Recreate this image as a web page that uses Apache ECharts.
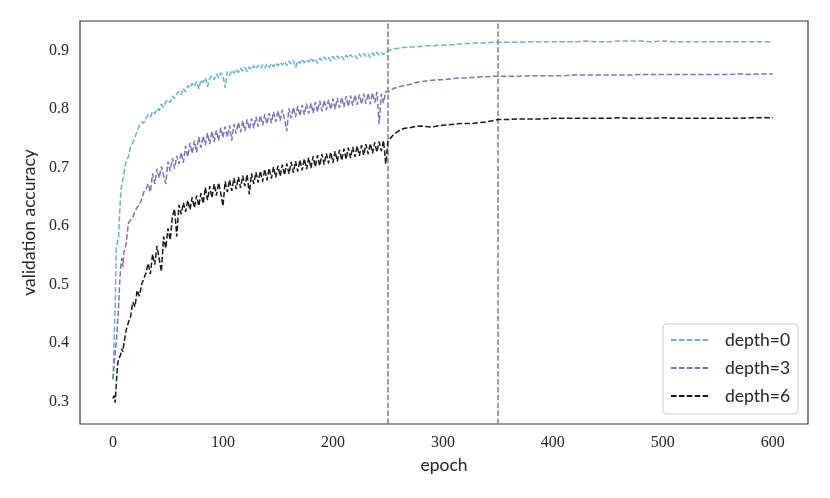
<!DOCTYPE html>
<html>
<head>
<meta charset="utf-8">
<script src="https://cdn.jsdelivr.net/npm/echarts@6/dist/echarts.min.js"></script>
<style>html,body{margin:0;padding:0;background:#fff}#c{width:830px;height:498px}</style>
</head>
<body>
<div id="c"></div>
<script>
const epochs = [0,1,2,3,4,5,6,7,8,9,10,
12,14,16,18,20,22,24,26,28,30,
32,34,36,38,40,42,44,46,48,50,52,54,56,58,60,62,64,66,68,70,72,74,76,78,80,82,84,86,88,90,92,94,96,98,100,102,104,106,108,110,112,114,116,118,120,122,124,126,128,130,132,134,136,138,140,142,144,146,148,150,152,154,156,158,160,162,164,166,168,170,172,174,176,178,180,182,184,186,188,190,192,194,196,198,200,202,204,206,208,210,212,214,216,218,220,222,224,226,228,230,232,234,236,238,240,242,244,246,248,
250,255,260,265,270,275,280,285,290,295,300,305,310,315,320,325,330,335,340,345,350,
360,370,380,390,400,410,420,430,440,450,460,470,480,490,500,510,520,530,540,550,560,570,580,590,600];

const depth0 = [0.338,0.40,0.462,0.565,0.572,0.578,0.62,0.655,0.672,0.68,0.69,
0.712,0.718,0.736,0.742,0.752,0.762,0.772,0.778,0.776,0.784,
0.79,0.786,0.796,0.792,0.801,0.797,0.808,0.803,0.812,0.816,0.811,0.822,0.818,0.826,0.83,0.824,0.835,0.829,0.84,0.836,0.844,0.838,0.847,0.834,0.85,0.845,0.853,0.838,0.852,0.857,0.85,0.86,0.853,0.862,0.858,0.836,0.864,0.857,0.866,0.861,0.868,0.862,0.87,0.865,0.871,0.864,0.872,0.867,0.874,0.868,0.875,0.869,0.876,0.87,0.877,0.871,0.878,0.872,0.879,0.874,0.88,0.875,0.881,0.874,0.882,0.877,0.883,0.871,0.882,0.878,0.885,0.879,0.884,0.88,0.887,0.881,0.886,0.878,0.887,0.883,0.889,0.884,0.888,0.882,0.89,0.885,0.891,0.886,0.89,0.884,0.892,0.887,0.893,0.888,0.891,0.886,0.894,0.889,0.895,0.89,0.894,0.888,0.896,0.891,0.897,0.892,0.896,0.893,0.898,
0.899,0.903,0.904,0.905,0.906,0.906,0.907,0.908,0.908,0.909,0.909,0.91,0.91,0.911,0.912,0.912,0.913,0.913,0.913,0.914,0.914,
0.914,0.914,0.915,0.915,0.915,0.915,0.915,0.916,0.915,0.915,0.916,0.916,0.916,0.915,0.916,0.915,0.915,0.915,0.915,0.915,0.915,0.915,0.915,0.915,0.915];

const depth3 = [0.338,0.36,0.385,0.40,0.43,0.46,0.50,0.53,0.545,0.53,0.555,
0.57,0.605,0.61,0.615,0.625,0.632,0.636,0.645,0.658,0.663,
0.672,0.658,0.69,0.672,0.698,0.682,0.702,0.686,0.672,0.71,
0.694,0.716,0.698,0.72,0.706,0.726,0.708,0.737,0.718,0.742,
0.724,0.746,0.726,0.752,0.734,0.754,0.738,0.759,0.74,0.762,
0.744,0.764,0.746,0.768,0.751,0.77,0.752,0.772,0.746,0.774,
0.758,0.777,0.76,0.78,0.762,0.782,0.765,0.784,0.767,0.787,
0.77,0.789,0.772,0.791,0.774,0.793,0.776,0.795,0.778,0.797,
0.78,0.799,0.782,0.762,0.801,0.784,0.803,0.786,0.805,0.788,
0.807,0.79,0.809,0.792,0.81,0.793,0.812,0.795,0.814,0.796,
0.815,0.798,0.816,0.799,0.818,0.80,0.819,0.802,0.82,0.803,
0.822,0.804,0.823,0.806,0.824,0.807,0.825,0.808,0.826,0.809,
0.827,0.808,0.828,0.811,0.829,0.774,0.826,0.81,0.83,
0.829,0.835,0.838,0.84,0.842,0.845,0.847,0.848,0.849,0.85,0.85,0.851,0.852,0.853,0.853,0.854,0.854,0.855,0.855,0.856,0.856,
0.856,0.856,0.857,0.857,0.857,0.857,0.858,0.858,0.858,0.858,0.858,0.858,0.859,0.859,0.859,0.859,0.859,0.859,0.859,0.859,0.859,0.86,0.859,0.86,0.86];

const depth6 = [0.305,0.31,0.298,0.33,0.36,0.372,0.375,0.38,0.39,0.385,0.40,
0.422,0.435,0.445,0.47,0.462,0.49,0.48,0.50,0.51,0.52,
0.536,0.518,0.552,0.534,0.566,0.544,0.522,0.582,0.562,0.596,
0.576,0.616,0.629,0.582,0.636,0.62,0.64,0.624,0.644,0.628,
0.649,0.631,0.652,0.634,0.656,0.638,0.666,0.644,0.668,0.648,
0.672,0.652,0.674,0.656,0.634,0.676,0.658,0.679,0.66,0.682,
0.663,0.684,0.665,0.686,0.668,0.688,0.654,0.69,0.672,0.692,
0.674,0.694,0.676,0.697,0.678,0.699,0.681,0.701,0.683,0.703,
0.685,0.705,0.687,0.707,0.689,0.709,0.691,0.711,0.693,0.713,
0.695,0.715,0.697,0.717,0.699,0.719,0.701,0.721,0.703,0.723,
0.705,0.724,0.707,0.726,0.708,0.728,0.71,0.73,0.712,0.732,
0.714,0.734,0.716,0.735,0.718,0.737,0.72,0.738,0.721,0.74,
0.723,0.741,0.724,0.743,0.726,0.744,0.728,0.746,0.706,
0.745,0.756,0.763,0.767,0.768,0.77,0.771,0.77,0.769,0.771,0.772,0.773,0.774,0.775,0.775,0.775,0.776,0.777,0.778,0.78,0.782,
0.782,0.783,0.783,0.783,0.784,0.784,0.784,0.784,0.784,0.784,0.785,0.784,0.784,0.784,0.785,0.784,0.784,0.784,0.784,0.784,0.784,0.784,0.785,0.785,0.785];

const seriesNames = ['depth=0','depth=3','depth=6'];
const seriesColors = ['#64b5cd','#8172b3','#1a1a1a'];
const phaseEpochs = [250, 350];

const chart = echarts.init(document.getElementById('c'), null, {renderer:'canvas'});
const allData = [depth0, depth3, depth6];
const dash = [5.5, 2.4];

const series = allData.map((vals, i) => ({
  name: seriesNames[i],
  type: 'line',
  data: epochs.map((e, k) => [e, vals[k]]),
  symbol: 'none',
  showSymbol: false,
  smooth: false,
  z: 3 + i,
  lineStyle: {color: seriesColors[i], width: 1.5, type: dash},
  itemStyle: {color: seriesColors[i]},
  animation: false
}));
series[0].markLine = {
  silent: true,
  symbol: 'none',
  label: {show: false},
  lineStyle: {color: '#808080', width: 1.5, type: [5.5, 2.4]},
  data: phaseEpochs.map(e => ({xAxis: e}))
};

chart.setOption({
  animation: false,
  backgroundColor: '#fff',
  grid: {left: 80, right: 22, top: 21, bottom: 74, show: true, borderColor: '#333', borderWidth: 1.2, backgroundColor: 'transparent'},
  xAxis: {
    type: 'value', min: -30, max: 632,
    name: 'epoch', nameLocation: 'middle', nameGap: 32,
    nameTextStyle: {fontFamily: 'Lato', fontSize: 17.5, color: '#262626'},
    axisLine: {show: false}, axisTick: {show: false}, splitLine: {show: false},
    axisLabel: {
      showMinLabel: false, showMaxLabel: false, margin: 11,
      fontFamily: 'Liberation Serif', fontSize: 16, color: '#262626',
      formatter: v => (v % 100 === 0 ? String(v) : '')
    }
  },
  yAxis: {
    type: 'value', min: 0.2615, max: 0.9504,
    name: 'validation accuracy', nameLocation: 'middle', nameGap: 37,
    nameTextStyle: {fontFamily: 'Lato', fontSize: 17.5, color: '#262626'},
    axisLine: {show: false}, axisTick: {show: false}, splitLine: {show: false},
    axisLabel: {
      showMinLabel: false, showMaxLabel: false, margin: 11,
      fontFamily: 'Liberation Serif', fontSize: 16, color: '#262626',
      formatter: v => v.toFixed(1)
    }
  },
  legend: {
    orient: 'vertical', left: 663, top: 324,
    data: seriesNames,
    itemWidth: 38, itemHeight: 10, itemGap: 10,
    padding: [7, 8, 9, 7],
    borderColor: '#cccccc', borderWidth: 1, borderRadius: 4, backgroundColor: '#fff',
    textStyle: {fontFamily: 'Lato', fontSize: 17.5, color: '#262626', lineHeight: 18, padding: [0, 0, 0, 11]},
    itemStyle: {opacity: 0}
  },
  series: series
});
</script>
</body>
</html>
